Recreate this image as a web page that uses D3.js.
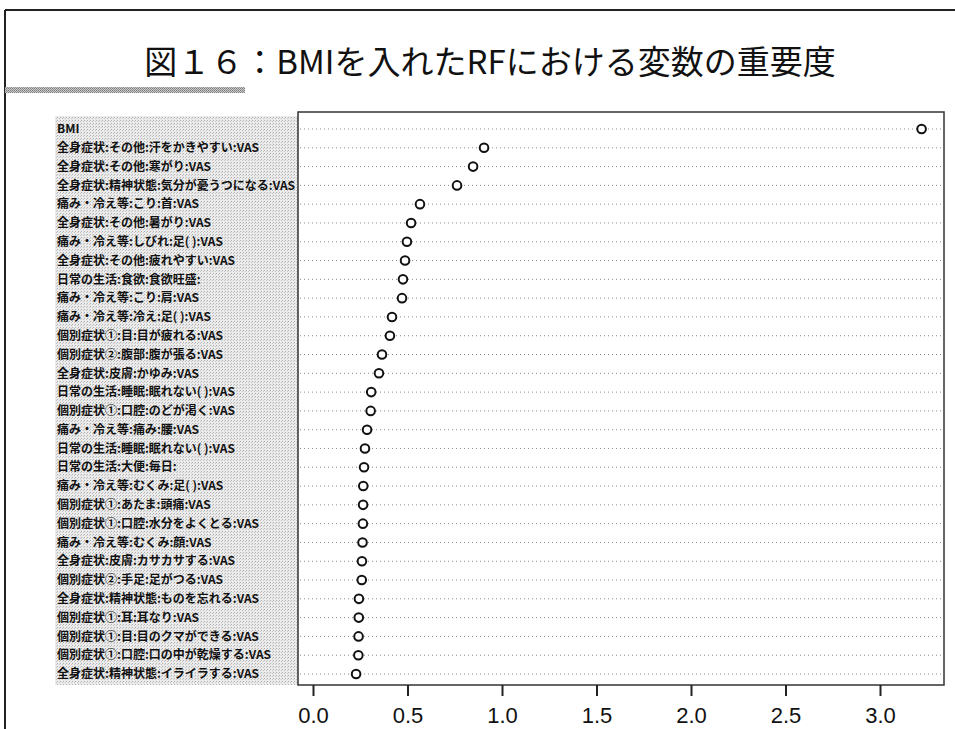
<!DOCTYPE html>
<html>
<head>
<meta charset="utf-8">
<script src="https://cdn.jsdelivr.net/npm/d3@7"></script>
<style>
  body { margin: 0; background: #fff; }
  .label-text { font-family: "Noto Sans CJK JP", sans-serif; font-weight: bold; font-size: 12px; fill: #111; }
  .tick-text { font-family: "Liberation Sans", Arial, sans-serif; font-size: 22px; fill: #111; }
</style>
</head>
<body>
<svg id="chart"></svg>
<script>
// variable names (top to bottom) and their importance
const labels = [
  "BMI",
  "全身症状:その他:汗をかきやすい:VAS",
  "全身症状:その他:寒がり:VAS",
  "全身症状:精神状態:気分が憂うつになる:VAS",
  "痛み・冷え等:こり:首:VAS",
  "全身症状:その他:暑がり:VAS",
  "痛み・冷え等:しびれ:足( ):VAS",
  "全身症状:その他:疲れやすい:VAS",
  "日常の生活:食欲:食欲旺盛:",
  "痛み・冷え等:こり:肩:VAS",
  "痛み・冷え等:冷え:足( ):VAS",
  "個別症状①:目:目が疲れる:VAS",
  "個別症状②:腹部:腹が張る:VAS",
  "全身症状:皮膚:かゆみ:VAS",
  "日常の生活:睡眠:眠れない( ):VAS",
  "個別症状①:口腔:のどが渇く:VAS",
  "痛み・冷え等:痛み:腰:VAS",
  "日常の生活:睡眠:眠れない( ):VAS ",
  "日常の生活:大便:毎日:",
  "痛み・冷え等:むくみ:足( ):VAS",
  "個別症状①:あたま:頭痛:VAS",
  "個別症状①:口腔:水分をよくとる:VAS",
  "痛み・冷え等:むくみ:顔:VAS",
  "全身症状:皮膚:カサカサする:VAS",
  "個別症状②:手足:足がつる:VAS",
  "全身症状:精神状態:ものを忘れる:VAS",
  "個別症状①:耳:耳なり:VAS",
  "個別症状①:目:目のクマができる:VAS",
  "個別症状①:口腔:口の中が乾燥する:VAS",
  "全身症状:精神状態:イライラする:VAS"
];
const importance = [
  3.22, 0.905, 0.847, 0.762, 0.566, 0.519, 0.497, 0.487, 0.476, 0.471,
  0.418, 0.407, 0.365, 0.349, 0.308, 0.305, 0.286, 0.275, 0.270, 0.266,
  0.265, 0.264, 0.262, 0.259, 0.258, 0.243, 0.242, 0.241, 0.240, 0.228
];
const xTicks = [0, 0.5, 1, 1.5, 2, 2.5, 3];
const titleText = "図１６：BMIを入れたRFにおける変数の重要度";

const W = 955, H = 729;
const box = { left: 298, right: 944, top: 112, bottom: 685 };

const svg = d3.select("#chart").attr("width", W).attr("height", H);

// stipple patterns to mimic the scanned grey fills
const defs = svg.append("defs");
const pat = defs.append("pattern").attr("id", "stip").attr("width", 3).attr("height", 3)
    .attr("patternUnits", "userSpaceOnUse");
pat.append("rect").attr("width", 3).attr("height", 3).attr("fill", "#ebebeb");
pat.append("rect").attr("x", 0).attr("y", 0).attr("width", 1).attr("height", 1).attr("fill", "#b0b0b0");
pat.append("rect").attr("x", 2).attr("y", 1).attr("width", 1).attr("height", 1).attr("fill", "#c4c4c4");

const pat2 = defs.append("pattern").attr("id", "stip2").attr("width", 2).attr("height", 2)
    .attr("patternUnits", "userSpaceOnUse");
pat2.append("rect").attr("width", 2).attr("height", 2).attr("fill", "#c8c8c8");
pat2.append("rect").attr("width", 1).attr("height", 1).attr("fill", "#808080");
pat2.append("rect").attr("x", 1).attr("y", 1).attr("width", 1).attr("height", 1).attr("fill", "#909090");

// slide frame
svg.append("line").attr("x1", 5).attr("x2", W).attr("y1", 10).attr("y2", 10)
    .attr("stroke", "#222").attr("stroke-width", 2);
svg.append("line").attr("x1", 5).attr("x2", 5).attr("y1", 10).attr("y2", H)
    .attr("stroke", "#222").attr("stroke-width", 2);

// title
svg.append("text")
    .attr("x", 490).attr("y", 74)
    .attr("text-anchor", "middle")
    .style("font-family", "'Noto Sans CJK JP', sans-serif")
    .style("font-size", "33px")
    .style("fill", "#111")
    .text(titleText);

svg.append("rect").attr("x", 5).attr("y", 87).attr("width", 240).attr("height", 6)
    .attr("fill", "url(#stip2)");

// scales
const x = d3.scaleLinear().domain([0, 3]).range([313, 880]);
const y = d3.scalePoint().domain(labels).range([129, 674]);

// label panel
svg.append("rect")
    .attr("x", 55).attr("y", 116)
    .attr("width", box.left - 55).attr("height", box.bottom - 116)
    .attr("fill", "url(#stip)");

svg.append("g").selectAll("text")
    .data(labels)
    .join("text")
    .attr("class", "label-text")
    .attr("x", 57)
    .attr("y", d => y(d))
    .attr("dy", "0.35em")
    .text(d => d.trim());

// dotted guide lines
svg.append("g").selectAll("line")
    .data(labels)
    .join("line")
    .attr("x1", box.left + 2).attr("x2", box.right - 2)
    .attr("y1", d => y(d)).attr("y2", d => y(d))
    .attr("stroke", "#8a8a8a")
    .attr("stroke-width", 1)
    .attr("stroke-dasharray", "1,3");

// plot box
svg.append("rect")
    .attr("x", box.left).attr("y", box.top)
    .attr("width", box.right - box.left).attr("height", box.bottom - box.top)
    .attr("fill", "none").attr("stroke", "#333").attr("stroke-width", 1.5);

// points
svg.append("g").selectAll("circle")
    .data(labels)
    .join("circle")
    .attr("cx", (d, i) => x(importance[i]))
    .attr("cy", d => y(d))
    .attr("r", 4.3)
    .attr("fill", "#fff")
    .attr("stroke", "#111")
    .attr("stroke-width", 2);

// x axis
const xAxis = svg.append("g")
    .attr("transform", `translate(0,${box.bottom})`)
    .call(d3.axisBottom(x).tickValues(xTicks).tickFormat(d3.format(".1f")).tickSize(11).tickPadding(11));
xAxis.select(".domain").remove();
xAxis.selectAll(".tick line").attr("stroke", "#222").attr("stroke-width", 2);
xAxis.selectAll(".tick text").attr("class", "tick-text").attr("fill", null);
</script>
</body>
</html>
